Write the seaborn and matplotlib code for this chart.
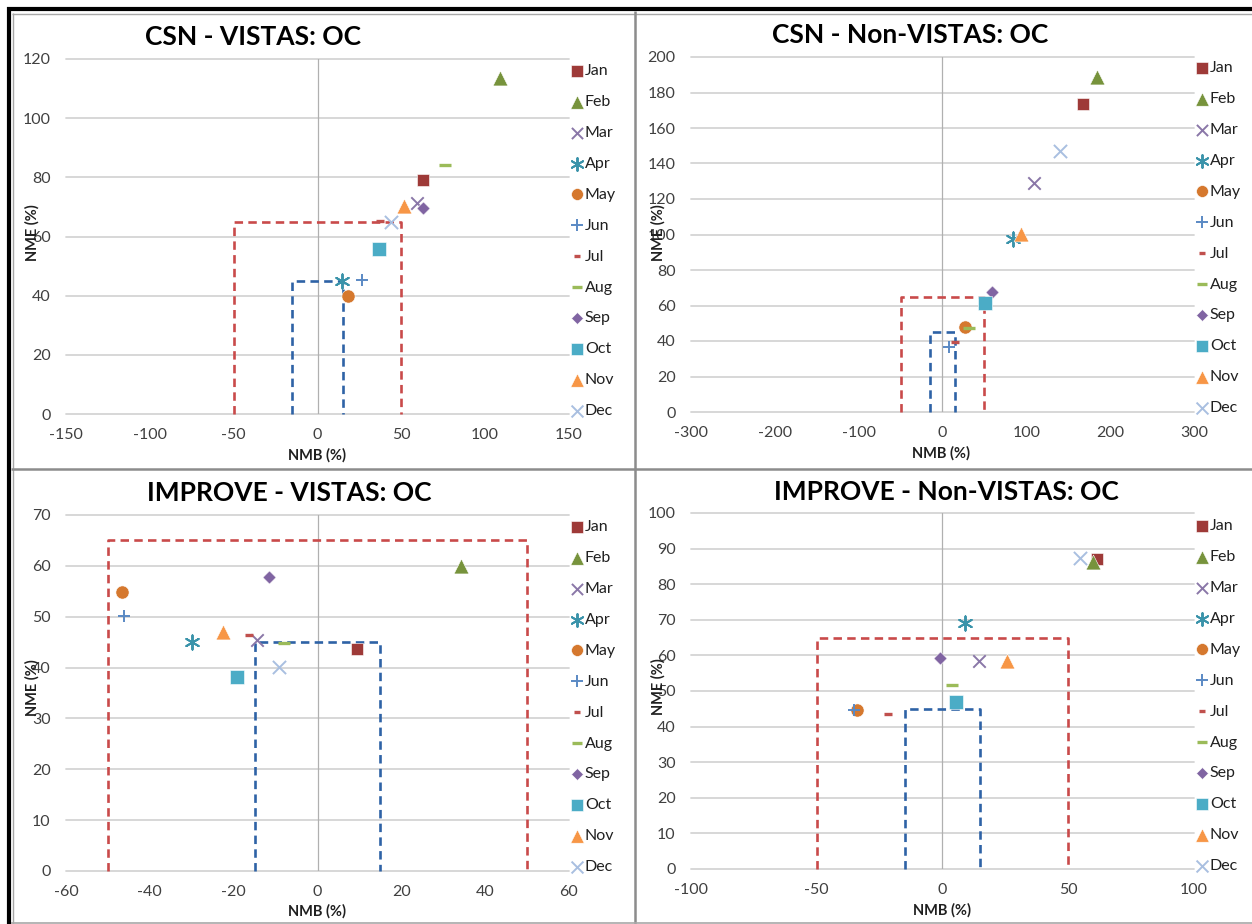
"""
Four-panel soccer-goal plots (NMB vs NME) for OC, CSN / IMPROVE networks,
VISTAS and Non-VISTAS regions. Monthly points against goal/criteria boxes.
"""
import matplotlib
matplotlib.use("Agg")
import matplotlib.pyplot as plt
from matplotlib.lines import Line2D
import seaborn as sns

W, H = 1252, 924

MONTHS = ["Jan", "Feb", "Mar", "Apr", "May", "Jun",
          "Jul", "Aug", "Sep", "Oct", "Nov", "Dec"]

# NMB / NME per month
CSN_VISTAS_NMB = [62.7, 109.0, 59.3, 14.8, 18.0, 26.7, 37.4, 76.0, 63.0, 36.9, 51.3, 43.7]
CSN_VISTAS_NME = [79.1, 113.6, 71.2, 44.9, 40.0, 45.4, 65.3, 84.1, 69.6, 55.8, 70.4, 65.0]

CSN_NONVISTAS_NMB = [167.5, 184.0, 108.7, 84.1, 26.6, 7.9, 14.7, 31.7, 59.5, 50.8, 94.0, 139.7]
CSN_NONVISTAS_NME = [173.8, 188.8, 128.8, 97.5, 47.8, 36.9, 39.2, 47.4, 67.5, 61.5, 100.3, 147.1]

IMPROVE_VISTAS_NMB = [9.4, 34.2, -14.5, -29.9, -46.7, -46.2, -16.4, -8.0, -11.5, -19.3, -22.5, -9.3]
IMPROVE_VISTAS_NME = [43.7, 60.0, 45.4, 45.1, 54.9, 50.1, 46.4, 44.9, 57.9, 38.1, 46.9, 40.2]

IMPROVE_NONVISTAS_NMB = [61.3, 59.7, 14.7, 9.1, -34.0, -35.0, -21.6, 3.6, -1.1, 5.4, 25.8, 54.8]
IMPROVE_NONVISTAS_NME = [87.1, 86.3, 58.3, 69.1, 44.6, 44.8, 43.6, 51.8, 59.4, 46.8, 58.3, 87.4]

# performance boxes: criteria (red) and goal (blue)
CRITERIA_BOX_X = [-50, -50, 50, 50]
CRITERIA_BOX_Y = [0, 65, 65, 0]
GOAL_BOX_X = [-15, -15, 15, 15]
GOAL_BOX_Y = [0, 45, 45, 0]

# month styling (Excel-like default series look)
MONTH_STYLE = {
    "Jan": dict(marker="s", color="#9E3A38", s=78),
    "Feb": dict(marker="^", color="#77933C", s=115),
    "Mar": dict(marker="x", color="#8A77A8", s=80, lw=1.4),
    "Apr": dict(marker=(6, 2, 0), color="#3A93AA", s=105, lw=1.4),
    "May": dict(marker="o", color="#D5782E", s=90),
    "Jun": dict(marker="+", color="#5A89C4", s=80, lw=1.4),
    "Jul": dict(marker="_", color="#C0504D", s=30, lw=2.4),
    "Aug": dict(marker="_", color="#9BBB59", s=75, lw=2.4),
    "Sep": dict(marker="D", color="#8064A2", s=45),
    "Oct": dict(marker="s", color="#4BACC6", s=88),
    "Nov": dict(marker="^", color="#F79646", s=115),
    "Dec": dict(marker="x", color="#A9BFE0", s=90, lw=1.4),
}

PANELS = [
    dict(title="CSN - VISTAS: OC", nmb=CSN_VISTAS_NMB, nme=CSN_VISTAS_NME,
         xlim=(-150, 150), xstep=50, ylim=(0, 120), ystep=20,
         box=(66, 59, 569, 414), title_xy=(253, 37), xlabel_xy=(317, 455),
         ylabel_xy=(32, 233), legend_xy=(571, 241)),
    dict(title="CSN - Non-VISTAS: OC", nmb=CSN_NONVISTAS_NMB, nme=CSN_NONVISTAS_NME,
         xlim=(-300, 300), xstep=100, ylim=(0, 200), ystep=20,
         box=(691, 57, 1194, 412), title_xy=(910, 35), xlabel_xy=(941, 453),
         ylabel_xy=(658, 233), legend_xy=(1196, 238)),
    dict(title="IMPROVE - VISTAS: OC", nmb=IMPROVE_VISTAS_NMB, nme=IMPROVE_VISTAS_NME,
         xlim=(-60, 60), xstep=20, ylim=(0, 70), ystep=10,
         box=(66, 515, 569, 871), title_xy=(289, 493), xlabel_xy=(317, 911),
         ylabel_xy=(32, 688), legend_xy=(571, 697)),
    dict(title="IMPROVE - Non-VISTAS: OC", nmb=IMPROVE_NONVISTAS_NMB, nme=IMPROVE_NONVISTAS_NME,
         xlim=(-100, 100), xstep=50, ylim=(0, 100), ystep=10,
         box=(691, 513, 1194, 869), title_xy=(946, 492), xlabel_xy=(942, 910),
         ylabel_xy=(658, 687), legend_xy=(1196, 696)),
]

TEXT_COLOR = "#404040"


def fx(px):
    return px / W


def fy(py):
    return 1 - py / H


def frame_line(fig, x0, y0, x1, y1, color, lw):
    fig.add_artist(Line2D([fx(x0), fx(x1)], [fy(y0), fy(y1)],
                          transform=fig.transFigure, color=color, lw=lw,
                          solid_capstyle="butt"))


def draw_panel(fig, p):
    x0, y0, x1, y1 = p["box"]
    ax = fig.add_axes([fx(x0), fy(y1), fx(x1 - x0), (y1 - y0) / H])
    ax.set_facecolor("none")
    ax.set_xlim(*p["xlim"])
    ax.set_ylim(*p["ylim"])
    xticks = list(range(p["xlim"][0], p["xlim"][1] + 1, p["xstep"]))
    yticks = list(range(p["ylim"][0], p["ylim"][1] + 1, p["ystep"]))
    ax.set_xticks(xticks)
    ax.set_yticks(yticks)
    for s in ax.spines.values():
        s.set_visible(False)
    ax.tick_params(length=0, labelsize=11.5, labelcolor=TEXT_COLOR)
    ax.tick_params(axis="y", pad=11)
    ax.tick_params(axis="x", pad=10)
    ax.grid(False)

    for yt in yticks:
        ax.axhline(yt, color="#D4D4D4", lw=1.3, zorder=0, clip_on=False)
    ax.axvline(0, color="#B0B0B0", lw=0.9, zorder=0.5)

    ax.plot(CRITERIA_BOX_X, CRITERIA_BOX_Y, color="#C94A4A", lw=1.9,
            ls=(0, (3.2, 2.0)), zorder=1, clip_on=False)
    ax.plot(GOAL_BOX_X, GOAL_BOX_Y, color="#2E62A6", lw=1.9,
            ls=(0, (3.2, 2.0)), zorder=1, clip_on=False)

    for i, m in enumerate(MONTHS):
        st = MONTH_STYLE[m]
        filled = st["marker"] in ("s", "^", "o", "D")
        sns.scatterplot(x=[p["nmb"][i]], y=[p["nme"][i]], ax=ax,
                        marker=st["marker"], color=st["color"], s=st["s"],
                        edgecolor=st["color"] if not filled else "white",
                        linewidth=st.get("lw", 0.4), label=m, zorder=3,
                        clip_on=False)
    ax.set_xlabel("")
    ax.set_ylabel("")

    handles, labels = ax.get_legend_handles_labels()
    ax.legend(handles, labels, loc="center left",
              bbox_to_anchor=(fx(p["legend_xy"][0]), fy(p["legend_xy"][1])),
              bbox_transform=fig.transFigure, frameon=False, fontsize=11.5,
              handlelength=0.75, handletextpad=0.12, borderpad=0,
              borderaxespad=0, labelspacing=1.05, markerscale=0.9,
              labelcolor="#202020")

    fig.text(fx(p["title_xy"][0]), fy(p["title_xy"][1]), p["title"],
             ha="center", va="center", fontsize=19, fontweight="bold",
             color="black")
    fig.text(fx(p["xlabel_xy"][0]), fy(p["xlabel_xy"][1]), "NMB (%)",
             ha="center", va="center", fontsize=10.5, fontweight="bold",
             color="#202020")
    fig.text(fx(p["ylabel_xy"][0]), fy(p["ylabel_xy"][1]), "NME (%)",
             ha="center", va="center", fontsize=10.5, fontweight="bold",
             rotation=90, color="#202020")


def main():
    sns.set_theme(style="white")
    plt.rcParams["font.family"] = ["Lato", "DejaVu Sans"]
    plt.rcParams["axes.unicode_minus"] = False

    fig = plt.figure(figsize=(W / 100, H / 100), dpi=100)
    fig.patch.set_facecolor("white")

    for p in PANELS:
        draw_panel(fig, p)

    # panel frames, like the pasted Excel charts
    frame_line(fig, 7, 9, W, 9, "black", 3.0)
    frame_line(fig, 9, 7, 9, H, "black", 3.0)
    frame_line(fig, 12, 13.5, W, 13.5, "#A8A8A8", 1.0)
    frame_line(fig, 12.5, 13, 12.5, H, "#A8A8A8", 1.0)
    frame_line(fig, 634.5, 11, 634.5, H, "#8C8C8C", 1.8)
    frame_line(fig, 11, 469, W, 469, "#8C8C8C", 1.8)
    frame_line(fig, 11, 922.5, W, 922.5, "#A8A8A8", 1.2)

    fig.savefig("out.png", dpi=100)


if __name__ == "__main__":
    main()
